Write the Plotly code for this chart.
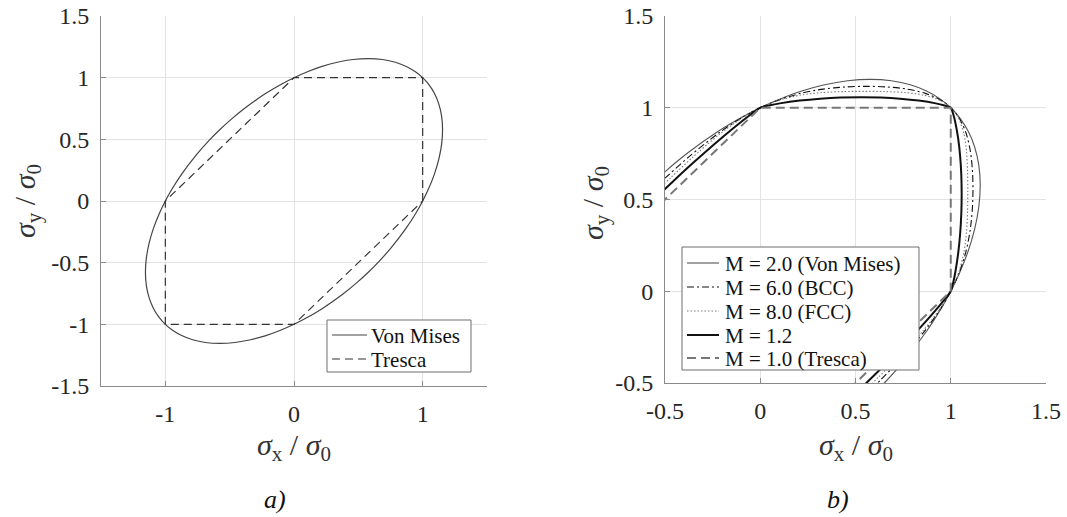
import plotly.graph_objects as go

# ---------------- data ----------------
# a) Von Mises ellipse (closed loop) and Tresca hexagon
vm_x = [1, 1.0483, 1.0911, 1.1251, 1.1471, 1.1547, 1.1471, 1.1251, 1.0911, 1.0483, 1,
        0.9435, 0.8729, 0.7876, 0.6883, 0.5774, 0.4588, 0.3375, 0.2182, 0.1048, 0,
        -0.0949, -0.2182, -0.3780, -0.4932, -0.5774, -0.6576, -0.7559, -0.8729, -0.9492, -1,
        -1.0483, -1.0911, -1.1251, -1.1471, -1.1547, -1.1471, -1.1251, -1.0911, -1.0483, -1,
        -0.9435, -0.8729, -0.7876, -0.6883, -0.5774, -0.4588, -0.3375, -0.2182, -0.1048, 0,
        0.0949, 0.2182, 0.3780, 0.4932, 0.5774, 0.6576, 0.7559, 0.8729, 0.9492, 1]
vm_y = [0, 0.1048, 0.2182, 0.3375, 0.4588, 0.5774, 0.6883, 0.7876, 0.8729, 0.9435, 1,
        1.0483, 1.0911, 1.1251, 1.1471, 1.1547, 1.1471, 1.1251, 1.0911, 1.0483, 1,
        0.9492, 0.8729, 0.7559, 0.6576, 0.5774, 0.4932, 0.3780, 0.2182, 0.0949, 0,
        -0.1048, -0.2182, -0.3375, -0.4588, -0.5774, -0.6883, -0.7876, -0.8729, -0.9435, -1,
        -1.0483, -1.0911, -1.1251, -1.1471, -1.1547, -1.1471, -1.1251, -1.0911, -1.0483, -1,
        -0.9492, -0.8729, -0.7559, -0.6576, -0.5774, -0.4932, -0.3780, -0.2182, -0.0949, 0]
tresca_x = [1, 1, 0, -1, -1, 0, 1]
tresca_y = [0, 1, 1, 0, -1, -1, 0]
a_names = ["Von Mises", "Tresca"]

# b) Hosford curves for several exponents M
m20_x = [-0.5774, -0.4932, -0.3780, -0.2182, -0.0949, -0.0487, 0,
         0.0512, 0.1048, 0.2182, 0.3375, 0.4588, 0.5774, 0.6883, 0.7876, 0.8729, 0.9435, 0.9734, 1,
         1.0246, 1.0483, 1.0911, 1.1251, 1.1471, 1.1547, 1.1471, 1.1251, 1.0911, 1.0483, 1.0246, 1,
         0.9747, 0.9492, 0.8729, 0.7559, 0.6576, 0.5774]
m20_y = [0.5774, 0.6576, 0.7559, 0.8729, 0.9492, 0.9747, 1,
         1.0246, 1.0483, 1.0911, 1.1251, 1.1471, 1.1547, 1.1471, 1.1251, 1.0911, 1.0483, 1.0246, 1,
         0.9734, 0.9435, 0.8729, 0.7876, 0.6883, 0.5774, 0.4588, 0.3375, 0.2182, 0.1048, 0.0512, 0,
         -0.0487, -0.0949, -0.2182, -0.3780, -0.4932, -0.5774]

m60_x = [-0.5584, -0.4778, -0.3689, -0.2159, -0.0947, -0.0487, 0,
         0.0512, 0.1046, 0.2159, 0.3305, 0.4453, 0.5584, 0.6679, 0.7712, 0.8638, 0.9410, 0.9728, 1,
         1.0240, 1.0455, 1.0797, 1.1017, 1.1132, 1.1167, 1.1132, 1.1017, 1.0797, 1.0455, 1.0240, 1,
         0.9742, 0.9471, 0.8638, 0.7378, 0.6371, 0.5584]
m60_y = [0.5584, 0.6371, 0.7378, 0.8638, 0.9471, 0.9742, 1,
         1.0240, 1.0455, 1.0797, 1.1017, 1.1132, 1.1167, 1.1132, 1.1017, 1.0797, 1.0455, 1.0240, 1,
         0.9728, 0.9410, 0.8638, 0.7712, 0.6679, 0.5584, 0.4453, 0.3305, 0.2159, 0.1046, 0.0512, 0,
         -0.0487, -0.0947, -0.2159, -0.3689, -0.4778, -0.5584]

m80_x = [-0.5447, -0.4666, -0.3618, -0.2139, -0.0945, -0.0487, 0,
         0.0512, 0.1043, 0.2139, 0.3249, 0.4353, 0.5447, 0.6529, 0.7580, 0.8557, 0.9385, 0.9721, 1,
         1.0233, 1.0428, 1.0696, 1.0829, 1.0882, 1.0895, 1.0882, 1.0829, 1.0696, 1.0428, 1.0233, 1,
         0.9736, 0.9450, 0.8557, 0.7235, 0.6222, 0.5447]
m80_y = [0.5447, 0.6222, 0.7235, 0.8557, 0.9450, 0.9736, 1,
         1.0233, 1.0428, 1.0696, 1.0829, 1.0882, 1.0895, 1.0882, 1.0829, 1.0696, 1.0428, 1.0233, 1,
         0.9721, 0.9385, 0.8557, 0.7580, 0.6529, 0.5447, 0.4353, 0.3249, 0.2139, 0.1043, 0.0512, 0,
         -0.0487, -0.0945, -0.2139, -0.3618, -0.4666, -0.5447]

m12_x = [-0.5287, -0.4527, -0.3506, -0.2078, -0.0929, -0.0482, 0,
         0.0507, 0.1024, 0.2078, 0.3148, 0.4221, 0.5287, 0.6332, 0.7346, 0.8313, 0.9214, 0.9629, 1,
         1.0136, 1.0238, 1.0391, 1.0494, 1.0554, 1.0573, 1.0554, 1.0494, 1.0391, 1.0238, 1.0136, 1,
         0.9648, 0.9292, 0.8313, 0.7012, 0.6037, 0.5287]
m12_y = [0.5287, 0.6037, 0.7012, 0.8313, 0.9292, 0.9648, 1,
         1.0136, 1.0238, 1.0391, 1.0494, 1.0554, 1.0573, 1.0554, 1.0494, 1.0391, 1.0238, 1.0136, 1,
         0.9629, 0.9214, 0.8313, 0.7346, 0.6332, 0.5287, 0.4221, 0.3148, 0.2078, 0.1024, 0.0507, 0,
         -0.0482, -0.0929, -0.2078, -0.3506, -0.4527, -0.5287]

m10_x = [-1, 0, 1, 1, 0]
m10_y = [0, 1, 1, 0, -1]
b_names = ["M = 2.0 (Von Mises)", "M = 6.0 (BCC)", "M = 8.0 (FCC)", "M = 1.2", "M = 1.0 (Tresca)"]

# tick labels
a_xticks = [-1, 0, 1]
a_xlabels = ["-1", "0", "1"]
a_yticks = [-1.5, -1, -0.5, 0, 0.5, 1, 1.5]
a_ylabels = ["-1.5", "-1", "-0.5", "0", "0.5", "1", "1.5"]
b_ticks = [-0.5, 0, 0.5, 1, 1.5]
b_labels = ["-0.5", "0", "0.5", "1", "1.5"]

# ---------------- styles ----------------
W, H = 1067, 517
FONT = "Liberation Serif, DejaVu Serif, serif"
sm = 0.8
a_styles = [dict(color="#444444", width=1.2, dash="solid"),
            dict(color="#333333", width=1.2, dash="8px,5px")]
b_styles = [dict(color="#555555", width=1.1, dash="solid"),
            dict(color="#111111", width=1.1, dash="7px,3px,2px,3px"),
            dict(color="#7a7a7a", width=1.1, dash="1.5px,2px"),
            dict(color="#111111", width=2.0, dash="solid"),
            dict(color="#777777", width=2.0, dash="9px,5px")]


def px_x(p):
    return p / W


def px_y(p):
    return 1 - p / H


fig = go.Figure()
fig.add_trace(go.Scatter(x=vm_x, y=vm_y, mode="lines", name=a_names[0],
                         line=dict(**a_styles[0], shape="spline", smoothing=sm),
                         xaxis="x", yaxis="y", showlegend=False))
fig.add_trace(go.Scatter(x=tresca_x, y=tresca_y, mode="lines", name=a_names[1],
                         line=a_styles[1], xaxis="x", yaxis="y", showlegend=False))

b_series = [(m20_x, m20_y, True), (m60_x, m60_y, True), (m80_x, m80_y, True),
            (m12_x, m12_y, True), (m10_x, m10_y, False)]
for (xs, ys, smooth), name, st in zip(b_series, b_names, b_styles):
    line = dict(**st)
    if smooth:
        line.update(shape="spline", smoothing=sm)
    fig.add_trace(go.Scatter(x=xs, y=ys, mode="lines", name=name, line=line,
                             xaxis="x2", yaxis="y2", showlegend=False))

tickfont = dict(family=FONT, size=24, color="#262626")
axcommon = dict(showline=True, linecolor="#8a8a8a", linewidth=1, showgrid=True,
                gridcolor="#e3e3e3", gridwidth=1, zeroline=False, ticks="inside",
                ticklen=5, tickcolor="#8a8a8a", tickfont=tickfont, automargin=False,
                fixedrange=True, mirror=False, ticklabelstandoff=6)

fig.update_layout(
    width=W, height=H, margin=dict(l=0, r=0, t=0, b=0),
    paper_bgcolor="white", plot_bgcolor="white", showlegend=False,
    xaxis=dict(domain=[px_x(101), px_x(487)], range=[-1.5, 1.5], tickvals=a_xticks,
               ticktext=a_xlabels, anchor="y", **axcommon),
    yaxis=dict(domain=[px_y(386), px_y(16)], range=[-1.5, 1.5], tickvals=a_yticks,
               ticktext=a_ylabels, anchor="x", **axcommon),
    xaxis2=dict(domain=[px_x(665), px_x(1046)], range=[-0.5, 1.5], tickvals=b_ticks,
                ticktext=b_labels, anchor="y2", **axcommon),
    yaxis2=dict(domain=[px_y(383), px_y(16)], range=[-0.5, 1.5], tickvals=b_ticks,
                ticktext=b_labels, anchor="x2", **axcommon),
)

# ---------------- legends (drawn as boxes + sample lines + text) ----------------
shapes = []
annotations = []
leg_font = dict(family=FONT, size=21, color="#111111")


def add_legend(box, rows, names, styles, x_line0, x_line1, x_text):
    x0, x1, y0, y1 = box
    shapes.append(dict(type="rect", xref="paper", yref="paper", layer="above",
                       x0=px_x(x0), x1=px_x(x1), y0=px_y(y1), y1=px_y(y0),
                       line=dict(color="#6e6e6e", width=1), fillcolor="white"))
    for yr, name, st in zip(rows, names, styles):
        shapes.append(dict(type="line", xref="paper", yref="paper", layer="above",
                           x0=px_x(x_line0), x1=px_x(x_line1), y0=px_y(yr), y1=px_y(yr),
                           line=dict(color=st["color"], width=st["width"], dash=st["dash"])))
        annotations.append(dict(text=name, x=px_x(x_text), y=px_y(yr + 1), xref="paper",
                                yref="paper", xanchor="left", yanchor="middle",
                                showarrow=False, font=leg_font))


add_legend((327, 471, 320, 372), [335, 359], a_names, a_styles, 332, 367, 369)
add_legend((682, 919, 247, 370), [263, 287, 311, 335, 358], b_names, b_styles, 687, 719, 723)

title_x = "<i>σ</i><sub>x</sub> / <i>σ</i><sub>0</sub>"
title_y = "<i>σ</i><sub>y</sub> / <i>σ</i><sub>0</sub>"
ann_font = dict(family=FONT, size=30, color="#333333")
annotations += [
    dict(text=title_x, x=px_x(294), y=px_y(447), showarrow=False, font=ann_font,
         xref="paper", yref="paper", xanchor="center", yanchor="middle"),
    dict(text=title_x, x=px_x(856), y=px_y(447), showarrow=False, font=ann_font,
         xref="paper", yref="paper", xanchor="center", yanchor="middle"),
    dict(text=title_y, x=px_x(27), y=px_y(201), showarrow=False, font=ann_font,
         textangle=-90, xref="paper", yref="paper", xanchor="center", yanchor="middle"),
    dict(text=title_y, x=px_x(595), y=px_y(203), showarrow=False, font=ann_font,
         textangle=-90, xref="paper", yref="paper", xanchor="center", yanchor="middle"),
    dict(text="<i>a)</i>", x=px_x(275), y=px_y(499), showarrow=False,
         font=dict(family=FONT, size=26, color="#111111"),
         xref="paper", yref="paper", xanchor="center", yanchor="middle"),
    dict(text="<i>b)</i>", x=px_x(838), y=px_y(499), showarrow=False,
         font=dict(family=FONT, size=26, color="#111111"),
         xref="paper", yref="paper", xanchor="center", yanchor="middle"),
]
fig.update_layout(shapes=shapes, annotations=annotations)

fig.write_html("out.html")
